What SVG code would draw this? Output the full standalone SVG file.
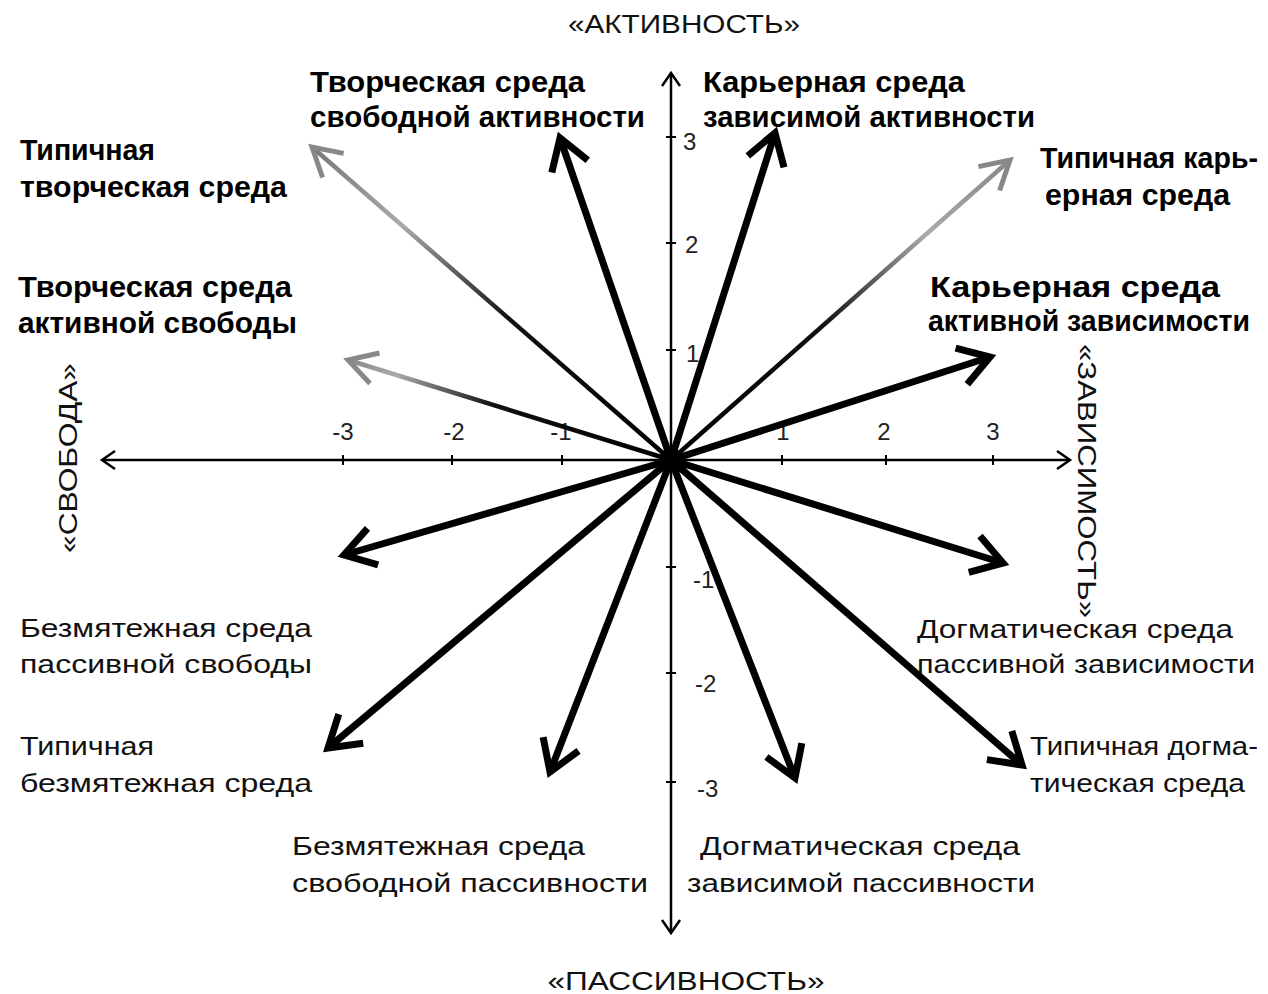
<svg xmlns="http://www.w3.org/2000/svg" width="1268" height="994" viewBox="0 0 1268 994">
<style>
.hand{font-family:"Liberation Sans","DejaVu Sans",sans-serif;font-weight:bold;font-size:30px;fill:#000}
.thin{font-family:"Liberation Sans","DejaVu Sans",sans-serif;font-size:26px;fill:#111}
.tick{font-family:"Liberation Sans","DejaVu Sans",sans-serif;font-size:24px;fill:#222}
.axt{font-family:"Liberation Sans","DejaVu Sans",sans-serif;font-size:26px;fill:#111}
.axis{stroke:#000;stroke-width:2.5;fill:none}
.bold{stroke:#000;stroke-width:7;fill:none;marker-end:url(#hb)}
.faded{stroke-width:4.5;fill:none;marker-end:url(#hf)}
</style>
<defs>
<marker id="hb" markerUnits="userSpaceOnUse" markerWidth="1" markerHeight="1" refX="0" refY="0" orient="auto" overflow="visible">
<path d="M-30,-19 L0,0 L-30,19" fill="none" stroke="#000" stroke-width="7" stroke-linejoin="miter"/>
</marker>
<marker id="hf" markerUnits="userSpaceOnUse" markerWidth="1" markerHeight="1" refX="0" refY="0" orient="auto" overflow="visible">
<path d="M-28,-16 L0,0 L-28,16" fill="none" stroke="#888" stroke-width="5"/>
</marker>
<marker id="ha" markerUnits="userSpaceOnUse" markerWidth="1" markerHeight="1" refX="0" refY="0" orient="auto" overflow="visible">
<path d="M-13,-9 L0,0 L-13,9" fill="none" stroke="#000" stroke-width="2.5"/>
</marker>
<linearGradient id="g1" gradientUnits="userSpaceOnUse" x1="671" y1="460" x2="312" y2="147">
<stop offset="0" stop-color="#000"/><stop offset="0.45" stop-color="#111"/><stop offset="0.75" stop-color="#aaa"/><stop offset="1" stop-color="#777"/>
</linearGradient>
<linearGradient id="g4" gradientUnits="userSpaceOnUse" x1="671" y1="460" x2="1010" y2="160">
<stop offset="0" stop-color="#000"/><stop offset="0.45" stop-color="#111"/><stop offset="0.75" stop-color="#aaa"/><stop offset="1" stop-color="#888"/>
</linearGradient>
<linearGradient id="g6" gradientUnits="userSpaceOnUse" x1="671" y1="460" x2="348" y2="360">
<stop offset="0" stop-color="#000"/><stop offset="0.55" stop-color="#111"/><stop offset="0.85" stop-color="#aaa"/><stop offset="1" stop-color="#888"/>
</linearGradient>
</defs>
<rect width="1268" height="994" fill="#fff"/>

<g id="axes">
<line class="axis" x1="671" y1="460" x2="102" y2="460" marker-end="url(#ha)"/>
<line class="axis" x1="671" y1="460" x2="1070" y2="460" marker-end="url(#ha)"/>
<line class="axis" x1="671" y1="460" x2="671" y2="73" marker-end="url(#ha)" stroke-width="3"/>
<line class="axis" x1="671" y1="460" x2="671" y2="933" marker-end="url(#ha)" stroke-width="3"/>
<g stroke="#000" stroke-width="2">
<line x1="343" y1="455" x2="343" y2="465"/><line x1="452" y1="455" x2="452" y2="465"/><line x1="562" y1="455" x2="562" y2="465"/>
<line x1="782" y1="455" x2="782" y2="465"/><line x1="886" y1="455" x2="886" y2="465"/><line x1="993" y1="455" x2="993" y2="465"/>
<line x1="666" y1="137" x2="676" y2="137"/><line x1="666" y1="243" x2="676" y2="243"/><line x1="666" y1="350" x2="676" y2="350"/>
<line x1="666" y1="567" x2="676" y2="567"/><line x1="666" y1="673" x2="676" y2="673"/><line x1="666" y1="782" x2="676" y2="782"/>
</g>
<text class="tick" x="343" y="440" text-anchor="middle">-3</text>
<text class="tick" x="454" y="440" text-anchor="middle">-2</text>
<text class="tick" x="561" y="440" text-anchor="middle">-1</text>
<text class="tick" x="783" y="440" text-anchor="middle">1</text>
<text class="tick" x="884" y="440" text-anchor="middle">2</text>
<text class="tick" x="993" y="440" text-anchor="middle">3</text>
<text class="tick" x="683" y="150">3</text>
<text class="tick" x="685" y="253">2</text>
<text class="tick" x="686" y="362">1</text>
<text class="tick" x="693" y="588">-1</text>
<text class="tick" x="695" y="692">-2</text>
<text class="tick" x="697" y="797">-3</text>
</g>

<g id="axis-titles">
<text class="axt" x="684" y="33" text-anchor="middle" textLength="232" lengthAdjust="spacingAndGlyphs">«АКТИВНОСТЬ»</text>
<text class="axt" x="686" y="990" text-anchor="middle" textLength="277" lengthAdjust="spacingAndGlyphs">«ПАССИВНОСТЬ»</text>
<text class="axt" font-size="32" transform="translate(77,458) rotate(-90)" text-anchor="middle" textLength="190" lengthAdjust="spacingAndGlyphs">«СВОБОДА»</text>
<text class="axt" font-size="32" transform="translate(1078,481) rotate(90)" text-anchor="middle" textLength="274" lengthAdjust="spacingAndGlyphs">«ЗАВИСИМОСТЬ»</text>
</g>

<g id="connectors">
<line class="faded" x1="671" y1="460" x2="312" y2="147" stroke="url(#g1)"/>
<line class="bold" x1="671" y1="460" x2="560" y2="138"/>
<line class="bold" x1="671" y1="460" x2="775" y2="133"/>
<line class="faded" x1="671" y1="460" x2="1010" y2="160" stroke="url(#g4)"/>
<line class="bold" x1="671" y1="460" x2="990" y2="357"/>
<line class="faded" x1="671" y1="460" x2="348" y2="360" stroke="url(#g6)"/>
<line class="bold" x1="671" y1="460" x2="344" y2="555"/>
<line class="bold" x1="671" y1="460" x2="328" y2="748"/>
<line class="bold" x1="671" y1="460" x2="550" y2="772"/>
<line class="bold" x1="671" y1="460" x2="795" y2="778"/>
<line class="bold" x1="671" y1="460" x2="1003" y2="563"/>
<line class="bold" x1="671" y1="460" x2="1022" y2="765"/>
<circle cx="671" cy="460" r="12" fill="#000"/>
</g>

<g id="n-tvorch-svob-akt">
<text class="hand" x="310" y="92" textLength="275" lengthAdjust="spacingAndGlyphs">Творческая среда</text>
<text class="hand" x="310" y="127" textLength="335" lengthAdjust="spacingAndGlyphs">свободной активности</text>
</g>
<g id="n-kar-zav-akt">
<text class="hand" x="703" y="92" textLength="262" lengthAdjust="spacingAndGlyphs">Карьерная среда</text>
<text class="hand" x="703" y="127" textLength="332" lengthAdjust="spacingAndGlyphs">зависимой активности</text>
</g>
<g id="n-tip-tvorch">
<text class="hand" x="20" y="160" textLength="135" lengthAdjust="spacingAndGlyphs">Типичная</text>
<text class="hand" x="20" y="197" textLength="267" lengthAdjust="spacingAndGlyphs">творческая среда</text>
</g>
<g id="n-tip-kar">
<text class="hand" x="1040" y="168" textLength="218" lengthAdjust="spacingAndGlyphs">Типичная карь-</text>
<text class="hand" x="1045" y="205" textLength="185" lengthAdjust="spacingAndGlyphs">ерная среда</text>
</g>
<g id="n-tvorch-akt-svob">
<text class="hand" x="18" y="297" textLength="274" lengthAdjust="spacingAndGlyphs">Творческая среда</text>
<text class="hand" x="18" y="333" textLength="279" lengthAdjust="spacingAndGlyphs">активной свободы</text>
</g>
<g id="n-kar-akt-zav">
<text class="hand" x="930" y="297" textLength="290" lengthAdjust="spacingAndGlyphs">Карьерная среда</text>
<text class="hand" x="928" y="331" font-size="27" textLength="322" lengthAdjust="spacingAndGlyphs">активной зависимости</text>
</g>
<g id="n-bezm-pass-svob">
<text class="thin" x="20" y="637" textLength="292" lengthAdjust="spacingAndGlyphs">Безмятежная среда</text>
<text class="thin" x="20" y="673" textLength="292" lengthAdjust="spacingAndGlyphs">пассивной свободы</text>
</g>
<g id="n-tip-bezm">
<text class="thin" x="20" y="755" textLength="134" lengthAdjust="spacingAndGlyphs">Типичная</text>
<text class="thin" x="20" y="792" textLength="292" lengthAdjust="spacingAndGlyphs">безмятежная среда</text>
</g>
<g id="n-bezm-svob-pass">
<text class="thin" x="292" y="855" textLength="293" lengthAdjust="spacingAndGlyphs">Безмятежная среда</text>
<text class="thin" x="292" y="892" textLength="356" lengthAdjust="spacingAndGlyphs">свободной пассивности</text>
</g>
<g id="n-dogm-zav-pass">
<text class="thin" x="700" y="855" textLength="320" lengthAdjust="spacingAndGlyphs">Догматическая среда</text>
<text class="thin" x="687" y="892" textLength="348" lengthAdjust="spacingAndGlyphs">зависимой пассивности</text>
</g>
<g id="n-dogm-pass-zav">
<text class="thin" x="917" y="638" textLength="316" lengthAdjust="spacingAndGlyphs">Догматическая среда</text>
<text class="thin" x="917" y="673" textLength="338" lengthAdjust="spacingAndGlyphs">пассивной зависимости</text>
</g>
<g id="n-tip-dogm">
<text class="thin" x="1030" y="755" textLength="228" lengthAdjust="spacingAndGlyphs">Типичная догма-</text>
<text class="thin" x="1030" y="792" textLength="215" lengthAdjust="spacingAndGlyphs">тическая среда</text>
</g>
</svg>
